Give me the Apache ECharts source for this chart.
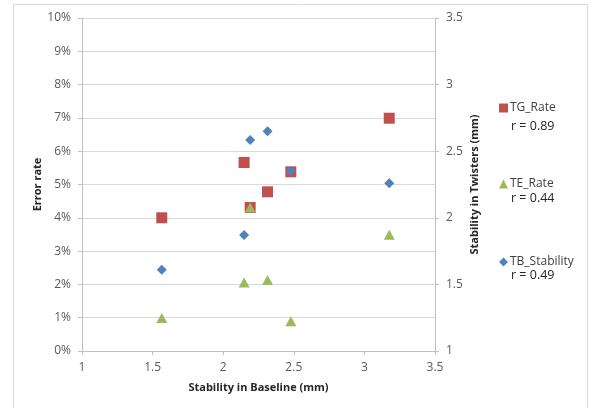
<!DOCTYPE html>
<html><head><meta charset="utf-8">
<script src="https://cdn.jsdelivr.net/npm/echarts@6/dist/echarts.min.js"></script>
<style>html,body{margin:0;padding:0;background:#fff}#c{width:589px;height:408px}</style>
</head><body><div id="c"></div>
<script>
// Data
const baseline    = [1.565, 2.148, 2.191, 2.314, 2.479, 3.176];   // Stability in Baseline (mm)
const tgRate      = [4.00, 5.66, 4.31, 4.78, 5.38, 6.99];          // % error rate
const teRate      = [0.99, 2.06, 4.31, 2.13, 0.89, 3.49];          // % error rate
const tbStability = [1.61, 1.87, 2.585, 2.65, 2.353, 2.26];        // Stability in Twisters (mm)
const seriesNames = ['TG_Rate', 'TE_Rate', 'TB_Stability'];
const rValues     = ['r = 0.89', 'r = 0.44', 'r = 0.49'];
const xTicks      = [1, 1.5, 2, 2.5, 3, 3.5];
const yLeftTicks  = [0, 1, 2, 3, 4, 5, 6, 7, 8, 9, 10];
const yRightTicks = [1, 1.5, 2, 2.5, 3, 3.5];

const FONT = '"Open Sans", "Liberation Sans", sans-serif';
const colors = ['#C0504D', '#9BBB59', '#4F81BD'];
const symbols = ['rect', 'triangle', 'diamond'];
const symbolSizes = [[11, 11], [11, 10], [10, 10]];
const legendTops = [97, 173, 251];
const rTops = [128, 200, 277];

const pair = (xs, ys) => xs.map((x, i) => [x, ys[i]]);
const seriesData = [pair(baseline, tgRate), pair(baseline, teRate), pair(baseline, tbStability)];

const chart = echarts.init(document.getElementById('c'), null, {renderer: 'canvas'});
chart.setOption({
  animation: false,
  backgroundColor: '#fff',
  textStyle: {fontFamily: FONT},
  grid: {left: 82, right: 154, top: 18, bottom: 57, containLabel: false},
  xAxis: {
    type: 'value', min: xTicks[0], max: xTicks[xTicks.length - 1], interval: 0.5,
    name: 'Stability in Baseline (mm)', nameLocation: 'middle', nameGap: 31,
    nameTextStyle: {fontFamily: FONT, fontSize: 11, fontWeight: 'bold', color: '#262626'},
    axisLine: {show: true, lineStyle: {color: '#bfbfbf'}},
    axisTick: {show: true, length: 4, lineStyle: {color: '#bfbfbf'}},
    axisLabel: {fontFamily: FONT, fontSize: 12, color: '#595959', margin: 11},
    splitLine: {show: false}
  },
  yAxis: [{
    type: 'value', min: yLeftTicks[0], max: yLeftTicks[yLeftTicks.length - 1], interval: 1,
    position: 'left',
    name: 'Error rate', nameLocation: 'middle', nameGap: 39, nameRotate: 90, nameMoveOverlap: false,
    nameTextStyle: {fontFamily: FONT, fontSize: 11, fontWeight: 'bold', color: '#262626'},
    axisLine: {show: true, lineStyle: {color: '#bfbfbf'}},
    axisTick: {show: true, length: 4, lineStyle: {color: '#bfbfbf'}},
    axisLabel: {fontFamily: FONT, fontSize: 12, color: '#595959', margin: 11, formatter: v => v + '%'},
    splitLine: {show: true, lineStyle: {color: '#d9d9d9', width: 1}}
  }, {
    type: 'value', min: yRightTicks[0], max: yRightTicks[yRightTicks.length - 1], interval: 0.5,
    position: 'right',
    name: 'Stability in Twisters (mm)', nameLocation: 'middle', nameGap: 34, nameRotate: 90, nameMoveOverlap: false,
    nameTextStyle: {fontFamily: FONT, fontSize: 11, fontWeight: 'bold', color: '#262626'},
    axisLine: {show: true, lineStyle: {color: '#bfbfbf'}},
    axisTick: {show: true, length: 4, lineStyle: {color: '#bfbfbf'}},
    axisLabel: {fontFamily: FONT, fontSize: 12, color: '#595959', margin: 11},
    splitLine: {show: false}
  }],
  legend: seriesNames.map((n, i) => ({
    data: [{name: n, icon: symbols[i]}],
    left: 494, top: legendTops[i], itemWidth: 9, itemHeight: 9, itemGap: 0,
    textStyle: {fontFamily: FONT, fontSize: 12, color: '#404040', padding: [0, 0, 0, -3]},
    selectedMode: false
  })),
  graphic: [
    {type: 'rect', shape: {x: 13.5, y: 4.5, width: 574, height: 420},
     style: {fill: 'none', stroke: '#d9d9d9', lineWidth: 1}, silent: true, z: -1}
  ].concat(rValues.map((t, i) => ({
    type: 'text', left: 511, top: rTops[i] - 8,
    style: {text: t, fontFamily: FONT, fontSize: 12.5, fill: '#262626'}
  }))),
  series: seriesNames.map((n, i) => ({
    name: n, type: 'scatter', yAxisIndex: i === 2 ? 1 : 0,
    symbol: symbols[i], symbolSize: symbolSizes[i],
    itemStyle: {color: colors[i], opacity: 1},
    data: seriesData[i], z: 2 + i
  }))
});
</script></body></html>
